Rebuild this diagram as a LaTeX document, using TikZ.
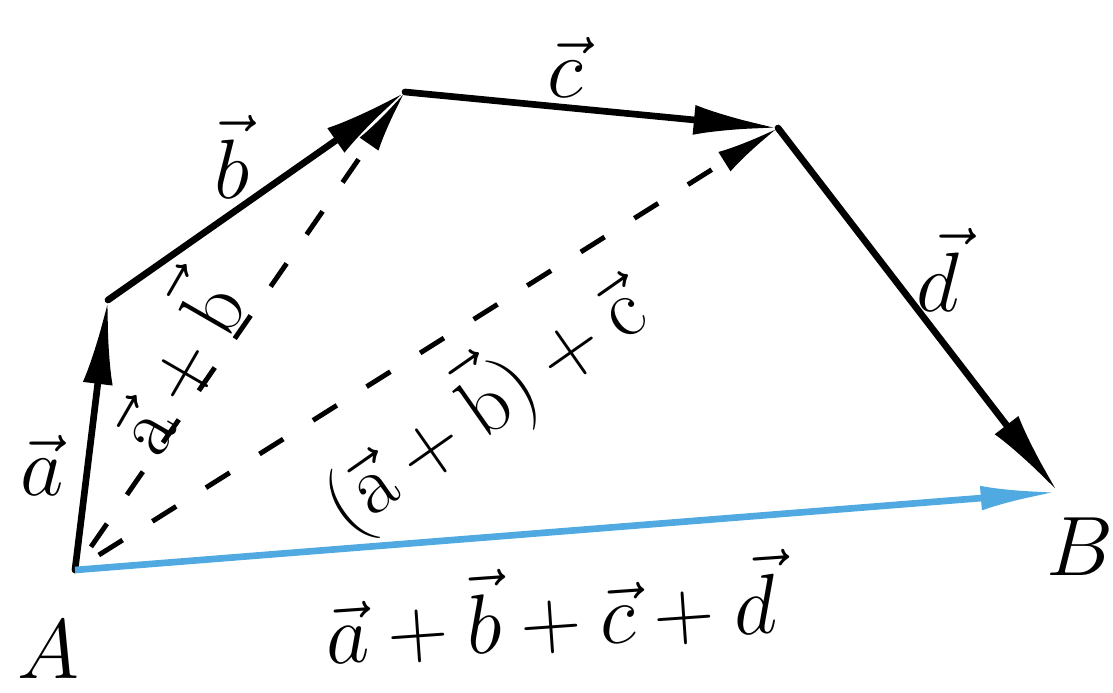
\documentclass[tikz,border=0pt]{standalone}
\usepackage{fix-cm}
\usetikzlibrary{arrows.meta}
\definecolor{sumblue}{RGB}{80,170,225}

\begin{document}
\begin{tikzpicture}[
  vec/.style    = {line width=1.9pt, line cap=round, -{Latex[length=24pt,width=8.5pt]}},
  partial/.style = {line width=1.4pt, dash pattern=on 8pt off 10pt,
                    shorten <=8pt, -{Latex[length=18pt,width=6.5pt]}},
                    % the partial sums: dashed, lighter head than a summand
  total/.style  = {sumblue, line width=1.9pt, -{Latex[length=22pt,width=7pt]}},
  lbl/.style    = {font=\fontsize{24}{28}\selectfont, inner sep=1pt},
]
  \useasboundingbox (0,0) rectangle (11.13,6.92);

  \coordinate (A) at (0.75,1.22);
  \coordinate (P1) at (1.08,3.92);
  \coordinate (P2) at (4.05,6.00);
  \coordinate (P3) at (7.78,5.64);
  \coordinate (B) at (10.58,2.00);

  % partial sums first, so the summands lie on top
  \draw[partial] (A) -- (P2);
  \draw[partial] (A) -- (P3);

  \draw[vec] (A) -- (P1);
  \draw[vec] (P1) -- (P2);
  \draw[vec] (P2) -- (P3);
  \draw[vec] (P3) -- (B);
  \draw[total] (A) -- (B);

  \node[lbl] (la) at (0.42,2.27) {$\vec a$};
  \node[lbl] (lb) at (2.32,5.35) {$\vec b$};
  \node[lbl] (lc) at (5.65,6.25) {$\vec c$};
  \node[lbl] (ld) at (9.38,4.22) {$\vec d$};
  \node[lbl] (lA) at (0.48,0.42) {$A$};
  \node[lbl] (lB) at (10.80,1.45) {$B$};

  % the dashed sums are labelled in upright letters, sitting on their line
  \node[lbl,rotate=60] (lab) at (1.71,3.29) {$\vec{\mathrm a}+\vec{\mathrm b}$};
  \node[lbl,rotate=35] (labc) at (4.82,2.88) {$(\vec{\mathrm a}+\vec{\mathrm b})+\vec{\mathrm c}$};
  \node[lbl,rotate=4] (lsum) at (5.50,0.82) {$\vec a+\vec b+\vec c+\vec d$};
\end{tikzpicture}
\end{document}
